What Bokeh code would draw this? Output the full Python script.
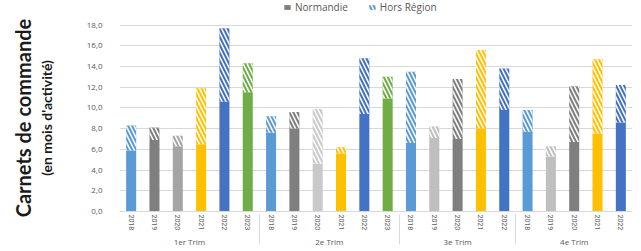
from bokeh.plotting import figure
from bokeh.models import (ColumnDataSource, FactorRange, FixedTicker, CustomJSTickFormatter,
                          Legend, LegendItem, Title)
from bokeh.layouts import column
from bokeh.embed import file_html
from bokeh.resources import INLINE

# ---- data ----
quarters = ["1er Trim", "2e Trim", "3e Trim", "4e Trim"]
years_q1 = ["2018", "2019", "2020", "2021", "2022", "2023"]
years_q2 = ["2018", "2019", "2020", "2021", "2022", "2023"]
years_q3 = ["2018", "2019", "2020", "2021", "2022"]
years_q4 = ["2018", "2019", "2020", "2021", "2022"]

normandie_q1 = [5.9, 6.9, 6.3, 6.5, 10.6, 11.5]
hors_q1 = [2.4, 1.2, 1.0, 5.4, 7.1, 2.8]
normandie_q2 = [7.6, 8.0, 4.6, 5.6, 9.4, 10.9]
hors_q2 = [1.6, 1.6, 5.3, 0.6, 5.4, 2.1]
normandie_q3 = [6.6, 7.1, 7.0, 8.0, 9.8]
hors_q3 = [6.9, 1.1, 5.8, 7.6, 4.0]
normandie_q4 = [7.7, 5.3, 6.7, 7.5, 8.6]
hors_q4 = [2.1, 1.0, 5.4, 7.2, 3.6]

colors_q1 = ["#5B9BD5", "#7F7F7F", "#A5A5A5", "#FFC000", "#4472C4", "#70AD47"]
colors_q2 = ["#5B9BD5", "#7F7F7F", "#C9C9C9", "#FFC000", "#4472C4", "#70AD47"]
colors_q3 = ["#5B9BD5", "#BFBFBF", "#7F7F7F", "#FFC000", "#4472C4"]
colors_q4 = ["#5B9BD5", "#BFBFBF", "#7F7F7F", "#FFC000", "#4472C4"]

y_ticks = [0, 2, 4, 6, 8, 10, 12, 14, 16, 18]

# ---- build table ----
factors, norm, hors, cols = [], [], [], []
for q, ys, n, h, c in zip(quarters,
                          [years_q1, years_q2, years_q3, years_q4],
                          [normandie_q1, normandie_q2, normandie_q3, normandie_q4],
                          [hors_q1, hors_q2, hors_q3, hors_q4],
                          [colors_q1, colors_q2, colors_q3, colors_q4]):
    for y, nv, hv, cv in zip(ys, n, h, c):
        factors.append((q, y))
        norm.append(nv)
        hors.append(hv)
        cols.append(cv)

total = [a + b for a, b in zip(norm, hors)]
src = ColumnDataSource(dict(x=factors, norm=norm, total=total, color=cols))

HATCH = dict(hatch_pattern="\\", hatch_color="white", hatch_scale=8, hatch_weight=1.5)

# ---- legend strip ----
lg = figure(width=640, height=15, output_backend="svg", toolbar_location=None,
            x_axis_location=None, y_axis_location=None,
            min_border_left=0, min_border_right=0, min_border_top=0, min_border_bottom=0)
lg.outline_line_color = None
lg.xgrid.grid_line_color = None
lg.ygrid.grid_line_color = None
r_n = lg.vbar(x=[0], top=[0], bottom=[0], width=0.0, fill_color="#7F7F7F", line_color=None)
r_h = lg.vbar(x=[0], top=[0], bottom=[0], width=0.0, fill_color="#5B9BD5", line_color=None, **HATCH)
legend = Legend(items=[LegendItem(label="Normandie", renderers=[r_n]),
                       LegendItem(label="Hors Région", renderers=[r_h])],
                orientation="horizontal", location=(164, 1),
                label_text_font_size="10px", label_text_color="#595959",
                label_text_font="Open Sans", label_height=10,
                glyph_width=8, glyph_height=6, spacing=20, padding=0, margin=0,
                label_standoff=4, border_line_color=None, background_fill_alpha=0)
lg.add_layout(legend)

# ---- main chart ----
p = figure(width=640, height=235, output_backend="svg", toolbar_location=None,
           x_range=FactorRange(*factors, factor_padding=0, group_padding=0, range_padding=0),
           y_range=(0, 18.05),
           min_border_left=119, min_border_right=8, min_border_top=9, min_border_bottom=20)
p.outline_line_color = None
p.background_fill_color = "white"

p.vbar(x="x", top="norm", bottom=0, width=0.43, source=src,
       fill_color="color", line_color=None)
p.vbar(x="x", top="total", bottom="norm", width=0.43, source=src,
       fill_color="color", line_color=None, **HATCH)

# y axis
p.yaxis.ticker = FixedTicker(ticks=y_ticks)
p.yaxis.formatter = CustomJSTickFormatter(code="return tick.toFixed(1).replace('.', ',');")
p.yaxis.axis_line_color = None
p.yaxis.major_tick_line_color = None
p.yaxis.minor_tick_line_color = None
p.yaxis.major_tick_out = 0
p.yaxis.major_tick_in = 0
p.yaxis.major_label_text_font_size = "8px"
p.yaxis.major_label_text_color = "#595959"
p.yaxis.major_label_text_font = "Open Sans"
p.yaxis.major_label_standoff = 17
p.yaxis.axis_label = "(en mois d'activité)"
p.yaxis.axis_label_text_font = "Lato"
p.yaxis.axis_label_text_font_size = "14px"
p.yaxis.axis_label_text_font_style = "bold"
p.yaxis.axis_label_text_color = "#1a1a1a"
p.yaxis.axis_label_standoff = 29
p.ygrid.grid_line_color = "#D9D9D9"
p.xgrid.grid_line_color = None

p.add_layout(Title(text="Carnets de commande", text_font="Lato", text_font_size="20px",
                   text_font_style="bold", text_color="#1a1a1a", align="center", standoff=0), "left")

# x axis
xa = p.xaxis[0]
xa.axis_line_color = "#D9D9D9"
xa.major_tick_line_color = None
xa.minor_tick_line_color = None
xa.major_tick_out = 0
xa.major_tick_in = 0
xa.major_label_orientation = "vertical"
xa.major_label_text_font_size = "7px"
xa.major_label_text_color = "#595959"
xa.major_label_text_font = "Roboto"
xa.major_label_standoff = 3
xa.group_text_font_size = "8px"
xa.group_text_font_style = "normal"
xa.group_text_color = "#595959"
xa.group_text_font = "Open Sans"
xa.separator_line_color = "#D9D9D9"
xa.separator_line_width = 1

open("out.html", "w").write(file_html(column(lg, p), INLINE))
